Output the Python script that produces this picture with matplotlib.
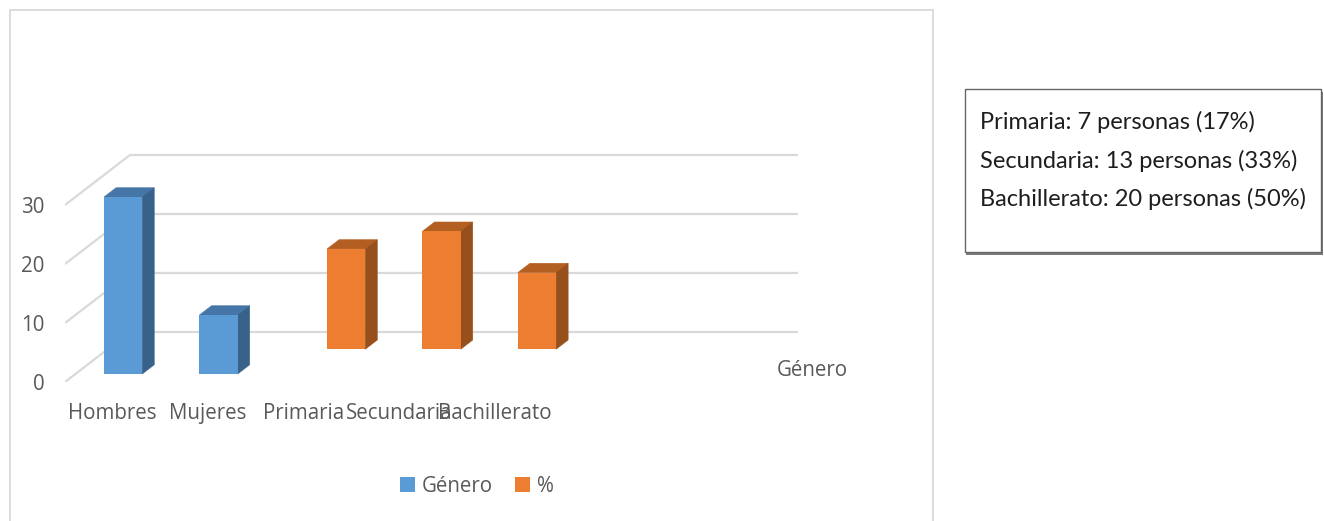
import numpy as np
import matplotlib
matplotlib.use("Agg")
import matplotlib.pyplot as plt
from matplotlib.patches import Rectangle, Polygon

# ---------------- data ----------------
categories = ["Hombres", "Mujeres", "Primaria", "Secundaria", "Bachillerato", "", ""]
genero = [30, 10, np.nan, np.nan, np.nan, np.nan, np.nan]
porcentaje = [np.nan, np.nan, 17, 20, 13, np.nan, np.nan]
series_names = ["Género", "%"]
y_ticks = [0, 10, 20, 30]
note_lines = ["Primaria: 7 personas (17%)",
              "Secundaria: 13 personas (33%)",
              "Bachillerato: 20 personas (50%)"]

# ---------------- style ----------------
W_PX, H_PX = 1324, 521
DPI = 100
FONT = ["Open Sans", "DejaVu Sans"]
plt.rcParams["font.family"] = FONT
FS = 14.8
TXT = "#595959"
GRID = "#D9D9D9"
BLUE = ("#5B9BD5", "#4676A8", "#386289")
ORANGE = ("#ED7D31", "#B45F22", "#97501C")

fig = plt.figure(figsize=(W_PX / DPI, H_PX / DPI), dpi=DPI)

# axes placement (pixels): front-left floor corner at (65, 382)
ax_l, ax_r, ax_b, ax_t = 65, 798, 382, 140
ax = fig.add_axes([ax_l / W_PX, (H_PX - ax_b) / H_PX,
                   (ax_r - ax_l) / W_PX, (ax_b - ax_t) / H_PX])
px_per_cat = 95.43
px_per_unit = 5.9
n = len(categories)
ax.set_xlim(-0.5, -0.5 + (ax_r - ax_l) / px_per_cat)
ax.set_ylim(0, (ax_b - ax_t) / px_per_unit)
for s in ax.spines.values():
    s.set_visible(False)
ax.patch.set_visible(False)

# depth (oblique projection) offsets in data units
DX = 65 / px_per_cat
DY = 50 / px_per_unit
BAR_W = 0.4
BAR_D = 0.185

# walls: back wall horizontal gridlines + left side wall lines
for v in y_ticks:
    ax.plot([-0.5 + DX, n - 0.5 + DX], [v + DY, v + DY], color=GRID, lw=1.6, zorder=1,
            solid_capstyle="butt")
    ax.plot([-0.5, -0.5 + DX], [v, v + DY], color=GRID, lw=1.6, zorder=1,
            solid_capstyle="butt")


def draw_row(values, z, colors, label, zbase):
    vals = np.asarray(values, dtype=float)
    idx = np.arange(len(vals))
    m = ~np.isnan(vals)
    x0 = idx[m] + z * DX
    y0 = z * DY
    ddx, ddy = BAR_D * DX, BAR_D * DY
    bars = ax.bar(x0, vals[m], width=BAR_W, bottom=y0, color=colors[0],
                  label=label, zorder=zbase + 1, linewidth=0)
    for xi, v in zip(x0, vals[m]):
        l, r = xi - BAR_W / 2, xi + BAR_W / 2
        top = Polygon([(l, y0 + v), (r, y0 + v), (r + ddx, y0 + v + ddy),
                       (l + ddx, y0 + v + ddy)], closed=True,
                      facecolor=colors[1], edgecolor=colors[1], lw=0.4, zorder=zbase)
        side = Polygon([(r, y0), (r, y0 + v), (r + ddx, y0 + v + ddy),
                        (r + ddx, y0 + ddy)], closed=True,
                       facecolor=colors[2], edgecolor=colors[2], lw=0.4, zorder=zbase)
        ax.add_patch(top)
        ax.add_patch(side)
    return bars


b2 = draw_row(porcentaje, 0.655, ORANGE, series_names[1], 3)
b1 = draw_row(genero, 0.16, BLUE, series_names[0], 6)

# axes ticks
ax.set_yticks(y_ticks)
ax.set_yticklabels([str(t) for t in y_ticks])
ax.tick_params(axis="y", length=0, pad=15, labelsize=FS, labelcolor=TXT)
ax.set_xticks(np.arange(n))
ax.set_xticklabels(categories)
ax.tick_params(axis="x", length=0, pad=15, labelsize=FS, labelcolor=TXT)

# series (depth) axis label
ax.text(-0.5 + (812 - ax_l) / px_per_cat, (ax_b - 371) / px_per_unit, series_names[0],
        ha="center", va="center", fontsize=FS, color=TXT, clip_on=False)

# legend
leg = fig.legend(handles=[b1, b2], labels=series_names, loc="center",
                 bbox_to_anchor=(477 / W_PX, 1 - 486 / H_PX), ncol=2, frameon=False,
                 fontsize=FS, handlelength=0.7, handleheight=0.7,
                 handletextpad=0.35, columnspacing=1.1)
for t in leg.get_texts():
    t.set_color(TXT)

# chart area frame
fig.add_artist(Rectangle((10 / W_PX, -0.05), (933 - 10) / W_PX, 1.05 - 10 / H_PX,
                         transform=fig.transFigure, fill=False, edgecolor=GRID, lw=1.3))

# note box with shadow
bx0, by0, bx1, by1 = 965, 89, 1321, 252
fig.add_artist(Rectangle(((bx0 + 1) / W_PX, 1 - (by1 + 3) / H_PX), (bx1 - bx0 + 1) / W_PX,
                         (by1 - by0) / H_PX, transform=fig.transFigure,
                         facecolor="#7a7a7a", edgecolor="none", zorder=1))
fig.add_artist(Rectangle((bx0 / W_PX, 1 - by1 / H_PX), (bx1 - bx0) / W_PX,
                         (by1 - by0) / H_PX, transform=fig.transFigure,
                         facecolor="white", edgecolor="#666666", lw=1.0, zorder=2))
for i, line in enumerate(note_lines):
    fig.text(980 / W_PX, 1 - (122 + 38.5 * i) / H_PX, line, ha="left", va="center",
             fontsize=17, color="#1e1e1e", family=["Lato", "DejaVu Sans"], zorder=3)

fig.savefig("out.png", dpi=DPI)
